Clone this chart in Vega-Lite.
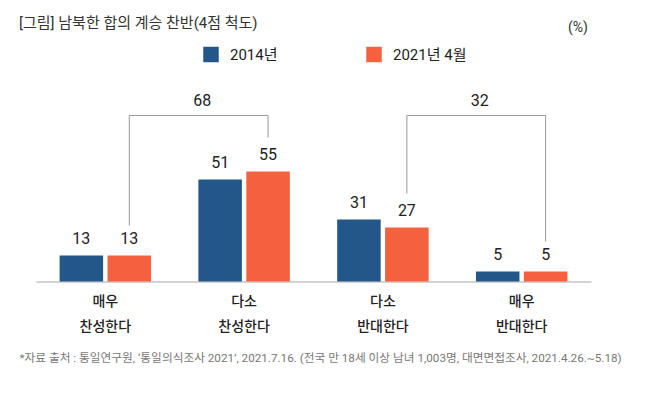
{
  "$schema": "https://vega.github.io/schema/vega-lite/v6.json",
  "width": 555,
  "height": 190,
  "autosize": {"type": "none"},
  "padding": {"left": 36, "top": 91.5, "right": 57, "bottom": 112.5},
  "background": "white",
  "config": {"font": "Roboto, 'Noto Sans CJK KR'", "view": {"stroke": null}},
  "title": {
    "text": "[그림] 남북한 합의 계승 찬반(4점 척도)",
    "anchor": "start",
    "frame": "group",
    "fontSize": 15,
    "fontWeight": "normal",
    "color": "#333333",
    "dx": -17,
    "dy": 11,
    "offset": 0
  },
  "layer": [
    {
      "data": {"name": "bars", "values": [
        {"cat": "매우 찬성한다", "series": "2014년", "value": 13},
        {"cat": "매우 찬성한다", "series": "2021년 4월", "value": 13},
        {"cat": "다소 찬성한다", "series": "2014년", "value": 51},
        {"cat": "다소 찬성한다", "series": "2021년 4월", "value": 55},
        {"cat": "다소 반대한다", "series": "2014년", "value": 31},
        {"cat": "다소 반대한다", "series": "2021년 4월", "value": 27},
        {"cat": "매우 반대한다", "series": "2014년", "value": 5},
        {"cat": "매우 반대한다", "series": "2021년 4월", "value": 5}
      ]},
      "layer": [
        {
          "mark": {"type": "bar"},
          "encoding": {
            "x": {"field": "cat", "type": "nominal"},
            "xOffset": {"field": "series", "type": "nominal"},
            "y": {"field": "value", "type": "quantitative"},
            "color": {
              "field": "series",
              "type": "nominal",
              "scale": {"domain": ["2014년", "2021년 4월"], "range": ["#235789", "#F4613F"]},
              "legend": {
                "orient": "none",
                "legendX": 167,
                "legendY": -45,
                "direction": "horizontal",
                "title": null,
                "symbolType": "square",
                "symbolSize": 240,
                "symbolStrokeWidth": 0,
                "symbolOpacity": 1,
                "labelFontSize": 15,
                "labelColor": "#222222",
                "labelOffset": 11,
                "columnPadding": 88
              }
            }
          }
        },
        {
          "mark": {"type": "text", "baseline": "middle", "dy": -16.5, "fontSize": 16, "color": "#222222"},
          "encoding": {
            "x": {"field": "cat", "type": "nominal"},
            "xOffset": {"field": "series", "type": "nominal"},
            "y": {"field": "value", "type": "quantitative"},
            "text": {"field": "value", "type": "quantitative"}
          }
        }
      ]
    },
    {
      "data": {"name": "brackets", "values": [
        {"bracket": "b1", "cat": "매우 찬성한다", "series": "2021년 4월", "y": 28, "ord": 1},
        {"bracket": "b1", "cat": "매우 찬성한다", "series": "2021년 4월", "y": 83, "ord": 2},
        {"bracket": "b1", "cat": "다소 찬성한다", "series": "2021년 4월", "y": 83, "ord": 3},
        {"bracket": "b1", "cat": "다소 찬성한다", "series": "2021년 4월", "y": 72, "ord": 4},
        {"bracket": "b2", "cat": "다소 반대한다", "series": "2021년 4월", "y": 44, "ord": 1},
        {"bracket": "b2", "cat": "다소 반대한다", "series": "2021년 4월", "y": 83, "ord": 2},
        {"bracket": "b2", "cat": "매우 반대한다", "series": "2021년 4월", "y": 83, "ord": 3},
        {"bracket": "b2", "cat": "매우 반대한다", "series": "2021년 4월", "y": 20, "ord": 4}
      ]},
      "mark": {"type": "line", "color": "#999999", "strokeWidth": 1, "interpolate": "linear"},
      "encoding": {
        "x": {"field": "cat", "type": "nominal"},
        "xOffset": {"field": "series", "type": "nominal"},
        "y": {"field": "y", "type": "quantitative"},
        "detail": {"field": "bracket"},
        "order": {"field": "ord", "type": "quantitative"}
      }
    },
    {
      "data": {"name": "sums", "values": [
        {"cat": "다소 찬성한다", "series": "2014년", "y": 83, "label": "68"},
        {"cat": "매우 반대한다", "series": "2014년", "y": 83, "label": "32"}
      ]},
      "mark": {"type": "text", "baseline": "middle", "dx": -18, "dy": -15, "fontSize": 16, "color": "#222222"},
      "encoding": {
        "x": {"field": "cat", "type": "nominal"},
        "xOffset": {"field": "series", "type": "nominal"},
        "y": {"field": "y", "type": "quantitative"},
        "text": {"field": "label"}
      }
    }
  ],
  "encoding": {
    "x": {
      "field": "cat",
      "type": "nominal",
      "scale": {
        "domain": ["매우 찬성한다", "다소 찬성한다", "다소 반대한다", "매우 반대한다"],
        "paddingInner": 0.341,
        "paddingOuter": 0.17
      },
      "axis": {
        "title": "*자료 출처 : 통일연구원, ‘통일의식조사 2021’, 2021.7.16. (전국 만 18세 이상 남녀 1,003명, 대면면접조사, 2021.4.26.~5.18)",
        "titleX": -17,
        "titleY": 75.5,
        "titleAlign": "left",
        "titleAnchor": "start",
        "titleBaseline": "middle",
        "titleFontSize": 11.7,
        "titleFontWeight": "normal",
        "titleColor": "#777777",
        "labelExpr": "split(datum.label, ' ')",
        "labelFontSize": 14,
        "labelFontWeight": 500,
        "labelColor": "#222222",
        "labelLineHeight": 25,
        "labelPadding": 13,
        "labelAngle": 0,
        "ticks": false,
        "tickSize": 0,
        "domainColor": "#d3d3d3",
        "domainWidth": 2
      }
    },
    "xOffset": {
      "field": "series",
      "type": "nominal",
      "scale": {"domain": ["2014년", "2021년 4월"], "paddingInner": 0.092, "paddingOuter": 0}
    },
    "y": {
      "field": "value",
      "type": "quantitative",
      "scale": {"domain": [0, 95], "nice": false, "zero": true},
      "axis": {
        "title": "(%)",
        "domain": false,
        "ticks": false,
        "labels": false,
        "grid": false,
        "titleAngle": 0,
        "titleX": 541.5,
        "titleY": -64.5,
        "titleAlign": "center",
        "titleBaseline": "middle",
        "titleFontSize": 14,
        "titleFontWeight": "normal",
        "titleColor": "#333333"
      }
    }
  }
}
